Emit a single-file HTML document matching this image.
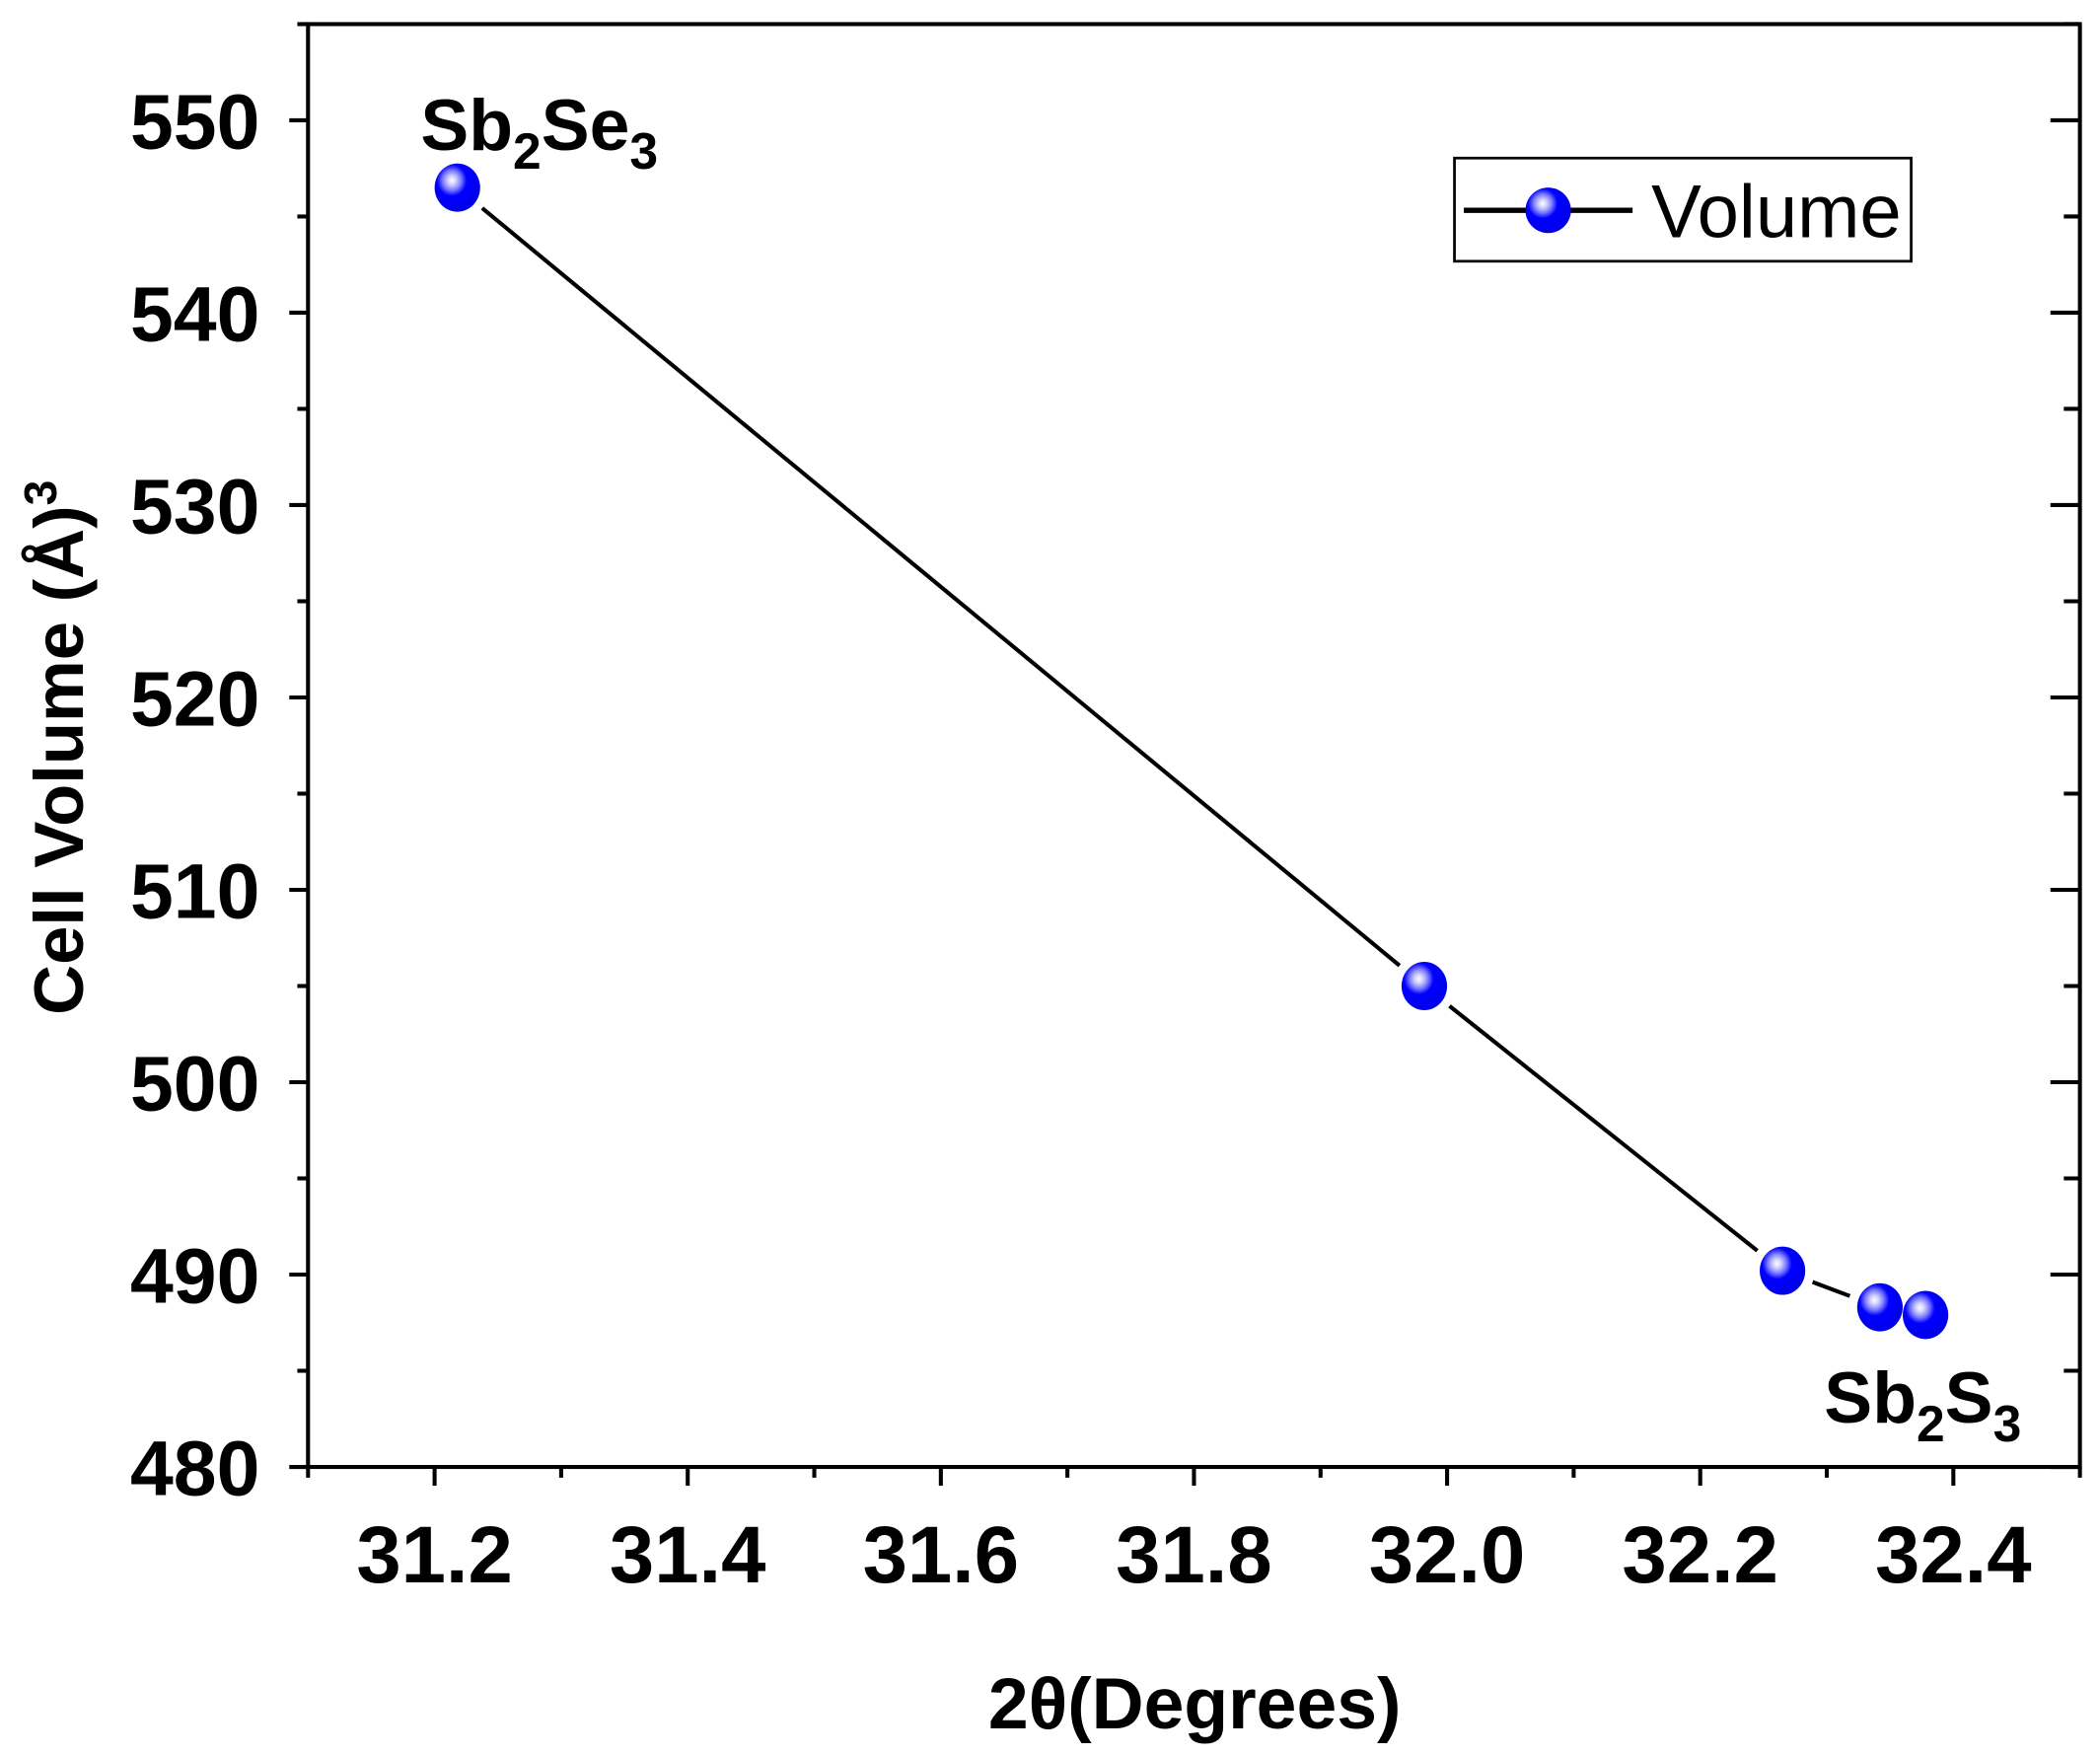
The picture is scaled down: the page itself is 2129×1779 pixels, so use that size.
<!DOCTYPE html>
<html><head><meta charset="utf-8"><style>
html,body{margin:0;padding:0;background:#fff;}
svg{display:block;font-family:"Liberation Sans",Arial,sans-serif;}
</style></head><body>
<svg id="chart" width="2129" height="1779" viewBox="0 0 1568 1310" preserveAspectRatio="none" xmlns="http://www.w3.org/2000/svg">
<defs>
<radialGradient id="ball" cx="0.38" cy="0.35" r="0.65">
<stop offset="0" stop-color="#ffffff"/>
<stop offset="0.15" stop-color="#ccccff"/>
<stop offset="0.32" stop-color="#7777ff"/>
<stop offset="0.5" stop-color="#0000ff"/>
<stop offset="1" stop-color="#0000e8"/>
</radialGradient>
</defs>
<g id="axes"></g>
<g id="series"></g>
<text x="314" y="112" font-size="54" font-weight="bold">Sb<tspan font-size="38" dy="14">2</tspan><tspan dy="-14">Se</tspan><tspan font-size="38" dy="14">3</tspan></text>
<text x="1362" y="1062" font-size="54" font-weight="bold">Sb<tspan font-size="38" dy="14">2</tspan><tspan dy="-14">S</tspan><tspan font-size="38" dy="14">3</tspan></text>
<g>
<rect x="1086" y="118" width="341" height="77" fill="#fff" stroke="#000" stroke-width="2"/>
<line x1="1093" y1="157" x2="1140" y2="157" stroke="#000" stroke-width="4"/>
<line x1="1172" y1="157" x2="1219" y2="157" stroke="#000" stroke-width="4"/>
<circle cx="1156" cy="157" r="17" fill="url(#ball)"/>
<text x="1233" y="177" font-size="56">Volume</text>
</g>
<text x="892" y="1290" font-size="54" font-weight="bold" text-anchor="middle">2θ(Degrees)</text>
<text transform="translate(62,558) rotate(-90)" font-size="52" font-weight="bold" text-anchor="middle">Cell Volume (Å)<tspan font-size="34" dy="-20">3</tspan></text>
</svg>
<script>
const xValues = [31.218, 31.982, 32.265, 32.342, 32.378];
const yValues = [546.5, 505.0, 490.2, 488.3, 487.9];
const xTicks = ["31.2","31.4","31.6","31.8","32.0","32.2","32.4"];
const yTicks = ["480","490","500","510","520","530","540","550"];
const X0=230,X1=1553,Y0=18,Y1=1095;
const xMin=31.1,xMax=32.5,yMin=480,yMax=555;
function sx(v){return X0+(v-xMin)/(xMax-xMin)*(X1-X0);}
function sy(v){return Y1-(v-yMin)/(yMax-yMin)*(Y1-Y0);}
const NS="http://www.w3.org/2000/svg";
function mk(tag,attrs,parent){const e=document.createElementNS(NS,tag);for(const k in attrs)e.setAttribute(k,attrs[k]);parent.appendChild(e);return e;}
const axes=document.getElementById('axes');
const frame=mk('rect',{x:X0,y:Y0,width:X1-X0,height:Y1-Y0,fill:'none',stroke:'#000','stroke-width':3},axes);


xTicks.forEach(t=>{const v=parseFloat(t),x=sx(v);
 const l=mk('line',{x1:x,y1:Y1,x2:x,y2:Y1+14,stroke:'#000','stroke-width':3},axes);
 
 
 const tx=mk('text',{x:x,y:Y1+86,'font-size':60,'font-weight':'bold','text-anchor':'middle'},axes);
 tx.textContent=t;
 
 
 const mx=sx(v+0.1);
 const m=mk('line',{x1:mx,y1:Y1,x2:mx,y2:Y1+8,stroke:'#000','stroke-width':3},axes);
 
 
});
const mxa=sx(31.1);
const m0=mk('line',{x1:mxa,y1:Y1,x2:mxa,y2:Y1+8,stroke:'#000','stroke-width':3},axes);


yTicks.forEach(t=>{const v=parseFloat(t),y=sy(v);
 const l=mk('line',{x1:X0-14,y1:y,x2:X0,y2:y,stroke:'#000','stroke-width':3},axes);
 
 
 const r=mk('line',{x1:X1-22,y1:y,x2:X1,y2:y,stroke:'#000','stroke-width':3},axes);
 
 
 const tx=mk('text',{x:X0-36,y:y+21,'font-size':58,'font-weight':'bold','text-anchor':'end'},axes);
 tx.textContent=t;
 
 
 const my=sy(v+5);
 const m=mk('line',{x1:X0-8,y1:my,x2:X0,y2:my,stroke:'#000','stroke-width':3},axes);
 
 
 const mr=mk('line',{x1:X1-12,y1:my,x2:X1,y2:my,stroke:'#000','stroke-width':3},axes);
 
 
});
const series=document.getElementById('series');
for(let i=0;i<xValues.length-1;i++){
 const ax=sx(xValues[i]),ay=sy(yValues[i]),bx=sx(xValues[i+1]),by=sy(yValues[i+1]);
 const d=Math.hypot(bx-ax,by-ay),g=24;
 if(d>2*g){const ux=(bx-ax)/d,uy=(by-ay)/d;
 const l=mk('line',{x1:ax+ux*g,y1:ay+uy*g,x2:bx-ux*g,y2:by-uy*g,stroke:'#000','stroke-width':3},series);
 
 }
}
xValues.forEach((v,i)=>{
 const c=mk('ellipse',{cx:sx(v),cy:sy(yValues[i]),rx:17,ry:18,fill:'url(#ball)'},series);
 
 
});
</script>
</body></html>
